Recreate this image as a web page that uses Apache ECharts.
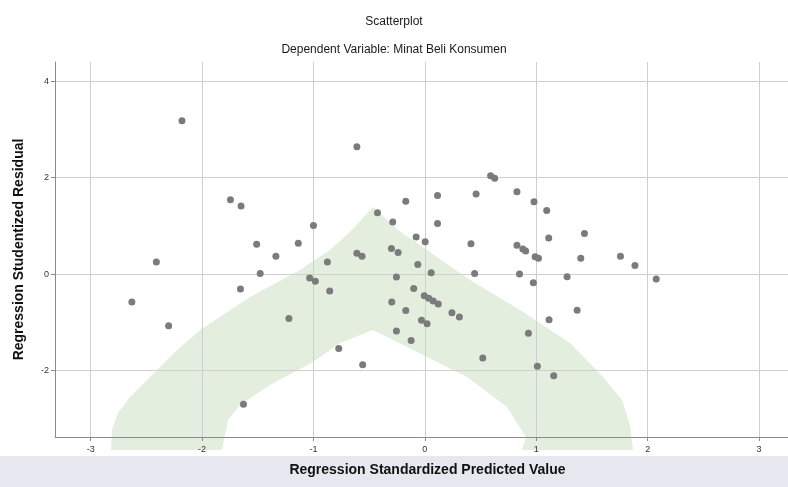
<!DOCTYPE html>
<html>
<head>
<meta charset="utf-8">
<title>Scatterplot</title>
<script src="https://cdn.jsdelivr.net/npm/echarts@6/dist/echarts.min.js"></script>
<style>
    html, body { margin: 0; padding: 0; background: #ffffff; }
    #chart { width: 788px; height: 487px; }
</style>
</head>
<body>
<div id="chart"></div>
<script>
// 标题文字
var chartTitle = 'Scatterplot';
var chartSubtitle = 'Dependent Variable: Minat Beli Konsumen';
var xName = 'Regression Standardized Predicted Value';
var yName = 'Regression Studentized Residual';

// 坐标轴范围
var xRange = [-3.32, 3.26];
var yRange = [-3.38, 4.4];

// 数据点 (预测值, 残差)
var predicted = [
    -2.18, -1.745, -1.65, -1.00, -1.51, -1.136, -1.337, -2.41, -1.478, -0.875,
    -1.034, -0.983, -1.655, -2.63, -2.30, -1.22, -0.854, -1.628, -0.61, 0.114,
    0.46, -0.171, -0.425, -0.288, 0.114, -0.078, 0.003, 0.414, -0.61, -0.564,
    -0.30, -0.24, -0.063, 0.057, 0.447, -0.255, -0.10, -0.297, -0.005, 0.035,
    0.075, 0.12, -0.171, 0.243, 0.31, -0.03, 0.02, -0.255, -0.123, -0.773,
    -0.558, 0.52, 0.93, 1.01, 0.85, 0.974, 0.59, 0.627, 0.827, 0.98,
    1.094, 1.433, 1.112, 0.827, 0.88, 0.905, 0.99, 1.02, 1.40, 1.756,
    1.886, 1.277, 2.077, 1.367, 1.115, 1.157
];
var residual = [
    3.18, 1.54, 1.41, 1.01, 0.62, 0.64, 0.37, 0.25, 0.01, 0.25,
    -0.08, -0.15, -0.31, -0.58, -1.07, -0.92, -0.35, -2.70, 2.64, 1.63,
    1.66, 1.51, 1.27, 1.08, 1.05, 0.77, 0.67, 0.63, 0.43, 0.37,
    0.53, 0.45, 0.20, 0.03, 0.01, -0.06, -0.30, -0.58, -0.45, -0.50,
    -0.56, -0.62, -0.755, -0.80, -0.89, -0.96, -1.03, -1.18, -1.38, -1.545,
    -1.88, -1.74, -1.23, -1.91, 0.00, -0.18, 2.04, 1.99, 1.71, 1.50,
    1.32, 0.84, 0.75, 0.60, 0.52, 0.48, 0.36, 0.33, 0.33, 0.37,
    0.18, -0.055, -0.10, -0.75, -0.95, -2.11
];

var points = [];
for (var i = 0; i < predicted.length; i++) {
    points.push([predicted[i], residual[i]]);
}

// 背景水印 (装饰)
var markOuter = [[111,450],[112,430],[118,413],[130,397],[150,377],[175,352],[200,330],[250,297],[300,270],[330,250],[350,232],[373,207],[398,230],[427,250],[470,280],[520,310],[570,343],[603,377],[622,400],[630,425],[633,450]];
var markInner = [[522,450],[526,437],[507,407],[467,377],[413,350],[373,330],[340,343],[313,362],[270,385],[240,405],[228,420],[222,450]];

var myChart = echarts.init(document.getElementById('chart'));

var font = 'Liberation Sans';
// 只显示整数刻度
function intLabel(v) {
    return Math.abs(v - Math.round(v)) < 1e-6 ? String(Math.round(v)) : '';
}

var option = {
    backgroundColor: '#ffffff',
    animation: false,
    title: [{
        text: chartTitle,
        left: 'center',
        top: 11,
        textStyle: { fontFamily: font, fontSize: 12, fontWeight: 'normal', color: '#1a1a1a' }
    }, {
        text: chartSubtitle,
        left: 'center',
        top: 39,
        textStyle: { fontFamily: font, fontSize: 12, fontWeight: 'normal', color: '#1a1a1a' }
    }],
    graphic: [{
        type: 'rect',
        z: -10,
        silent: true,
        shape: { x: 0, y: 456, width: 788, height: 31 },
        style: { fill: '#e7e7f0' }
    }, {
        type: 'polygon',
        z: -5,
        silent: true,
        shape: { points: markOuter.concat(markInner) },
        style: { fill: '#e3eedf' }
    }],
    grid: {
        left: 55,
        right: 0,
        top: 62,
        bottom: 50,
        containLabel: false,
        outerBoundsMode: 'none'
    },
    xAxis: {
        type: 'value',
        min: xRange[0],
        max: xRange[1],
        splitNumber: 6,
        name: xName,
        nameLocation: 'middle',
        nameGap: 26,
        nameTextStyle: {
            fontFamily: font,
            fontSize: 14,
            fontWeight: 'bold',
            color: '#111111',
            padding: [0, 0, 0, 12]
        },
        axisLine: { show: true, onZero: false, lineStyle: { color: '#8a8a8a', width: 1 } },
        axisTick: { show: true, length: 4, lineStyle: { color: '#8a8a8a' } },
        axisLabel: {
            fontFamily: font,
            fontSize: 9,
            color: '#333333',
            margin: 8,
            showMinLabel: false,
            showMaxLabel: false,
            formatter: intLabel
        },
        splitLine: { show: true, showMinLine: false, showMaxLine: false, lineStyle: { color: '#cfcfcf', width: 1 } }
    },
    yAxis: {
        type: 'value',
        min: yRange[0],
        max: yRange[1],
        splitNumber: 4,
        name: yName,
        nameLocation: 'middle',
        nameGap: 29,
        nameTextStyle: {
            fontFamily: font,
            fontSize: 14,
            fontWeight: 'bold',
            color: '#111111'
        },
        axisLine: { show: true, onZero: false, lineStyle: { color: '#8a8a8a', width: 1 } },
        axisTick: { show: true, length: 4, lineStyle: { color: '#8a8a8a' } },
        axisLabel: {
            fontFamily: font,
            fontSize: 9,
            color: '#333333',
            margin: 6,
            showMinLabel: false,
            showMaxLabel: false,
            formatter: intLabel
        },
        splitLine: { show: true, showMinLine: false, showMaxLine: false, lineStyle: { color: '#cfcfcf', width: 1 } }
    },
    series: [{
        type: 'scatter',
        data: points,
        symbol: 'circle',
        symbolSize: 7,
        itemStyle: { color: '#7b7b7b', opacity: 1 }
    }]
};
myChart.setOption(option);
</script>
</body>
</html>
